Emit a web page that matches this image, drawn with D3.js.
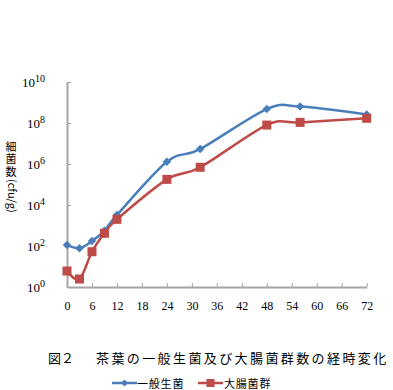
<!DOCTYPE html>
<html><head><meta charset="utf-8">
<script src="https://cdn.jsdelivr.net/npm/d3@7"></script>
<style>
body{margin:0;background:#fff;}
svg{display:block;}
</style></head>
<body>
<svg id="c" width="393" height="390"></svg>
<script>
const hours = [0, 3, 6, 9, 12, 24, 32, 48, 56, 72];
const generalLog = [2.05, 1.89, 2.24, 2.75, 3.51, 6.11, 6.73, 8.68, 8.80, 8.42];
const coliformLog = [0.78, 0.39, 1.72, 2.62, 3.30, 5.25, 5.84, 7.90, 8.03, 8.23];
const xTicks = [0, 6, 12, 18, 24, 30, 36, 42, 48, 54, 60, 66, 72];
const yTickExps = [0, 2, 4, 6, 8, 10];
const seriesNames = ["一般生菌", "大腸菌群"];
const yTitleKanji = "細菌数";
const yTitleUnit = "(cfu/g)";
const colors = ["#4a7ebb", "#be4b48"];

const svg = d3.select("#c");
const x = d3.scaleLinear().domain([0, 72]).range([67, 366.7]);
const y = d3.scaleLog().domain([1, 1e10]).range([287, 82]);

const serif = "'Liberation Serif','DejaVu Serif',serif";
const jp = "'Noto Sans CJK JP',sans-serif";

// axes
const gx = svg.append("g").attr("transform", "translate(0,287)")
  .call(d3.axisBottom(x).tickValues(xTicks).tickSizeInner(-4).tickSizeOuter(0).tickPadding(14));
gx.select(".domain").attr("stroke", "#a6a6a6").attr("stroke-width", 2);
gx.selectAll(".tick line").attr("stroke", "#a6a6a6");
gx.selectAll(".tick text").attr("font-family", serif).attr("font-size", 12).attr("fill", "#000");

const gy = svg.append("g").attr("transform", "translate(67,0)")
  .call(d3.axisLeft(y).tickValues(yTickExps.map(e => Math.pow(10, e))).tickSizeInner(-4).tickSizeOuter(0).tickFormat(() => ""));
gy.select(".domain").attr("stroke", "#a6a6a6").attr("stroke-width", 2);
gy.selectAll(".tick line").attr("stroke", "#a6a6a6");

// y tick labels with superscripts
const yl = svg.append("g");
yTickExps.forEach(e => {
  const t = yl.append("text").attr("x", 45).attr("y", y(Math.pow(10, e)) + 4.5)
    .attr("text-anchor", "end").attr("font-family", serif).attr("font-size", 13).attr("fill", "#000");
  t.append("tspan").text("10");
  t.append("tspan").attr("dy", -5).attr("font-size", 10).text(String(e));
});

// y axis title in vertical writing: one text, kanji glyphs turned upright, unit along the line
const fs = 11;
const asc = 0.88 * fs;
svg.append("text").attr("transform", "translate(5.5,141) rotate(90)")
  .attr("font-family", jp).attr("font-size", fs).attr("fill", "#000")
  .attr("rotate", "-90 -90 -90 0")
  .attr("dx", [asc, 1.5, 1.5, -asc + 2].join(" "))
  .attr("dy", "0 0 0 -2")
  .text(yTitleKanji + yTitleUnit);

const line = d3.line().x(d => x(d[0])).y(d => y(Math.pow(10, d[1]))).curve(d3.curveCardinal.tension(0));
const series = [generalLog, coliformLog];
series.forEach((vals, i) => {
  const pts = hours.map((h, j) => [h, vals[j]]);
  svg.append("path").attr("d", line(pts)).attr("fill", "none")
    .attr("stroke", colors[i]).attr("stroke-width", 2.5);
});
// markers
svg.append("g").selectAll("path").data(hours.map((h, j) => [h, generalLog[j]])).join("path")
  .attr("d", d3.symbol().type(d3.symbolSquare).size(36))
  .attr("transform", d => `translate(${x(d[0])},${y(Math.pow(10, d[1]))}) rotate(45)`)
  .attr("fill", colors[0]);
svg.append("g").selectAll("rect").data(hours.map((h, j) => [h, coliformLog[j]])).join("rect")
  .attr("x", d => x(d[0]) - 4.5).attr("y", d => y(Math.pow(10, d[1])) - 4.5)
  .attr("width", 9).attr("height", 9).attr("fill", colors[1]);

// title
svg.append("text").attr("x", 48).attr("y", 363).attr("font-family", jp).attr("font-size", 13)
  .attr("fill", "#000").text("図２");
svg.append("text").attr("x", 96).attr("y", 363).attr("font-family", jp).attr("font-size", 13)
  .attr("letter-spacing", 2.4).attr("fill", "#000").text("茶葉の一般生菌及び大腸菌群数の経時変化");

// legend
const legItems = [{x0: 112, x1: 137, tx: 137}, {x0: 198, x1: 223, tx: 224}];
legItems.forEach((l, i) => {
  const ly = 383;
  svg.append("line").attr("x1", l.x0).attr("x2", l.x1).attr("y1", ly).attr("y2", ly)
    .attr("stroke", colors[i]).attr("stroke-width", 2.5);
  const cx = (l.x0 + l.x1) / 2;
  if (i === 0) {
    svg.append("path").attr("d", d3.symbol().type(d3.symbolSquare).size(26)())
      .attr("transform", `translate(${cx},${ly}) rotate(45)`).attr("fill", colors[i]);
  } else {
    svg.append("rect").attr("x", cx - 4).attr("y", ly - 4).attr("width", 8).attr("height", 8).attr("fill", colors[i]);
  }
  svg.append("text").attr("x", l.tx).attr("y", ly + 4.5).attr("font-family", jp).attr("font-size", 11)
    .attr("letter-spacing", 0.8).attr("fill", "#000").text(seriesNames[i]);
});
</script>
</body></html>
